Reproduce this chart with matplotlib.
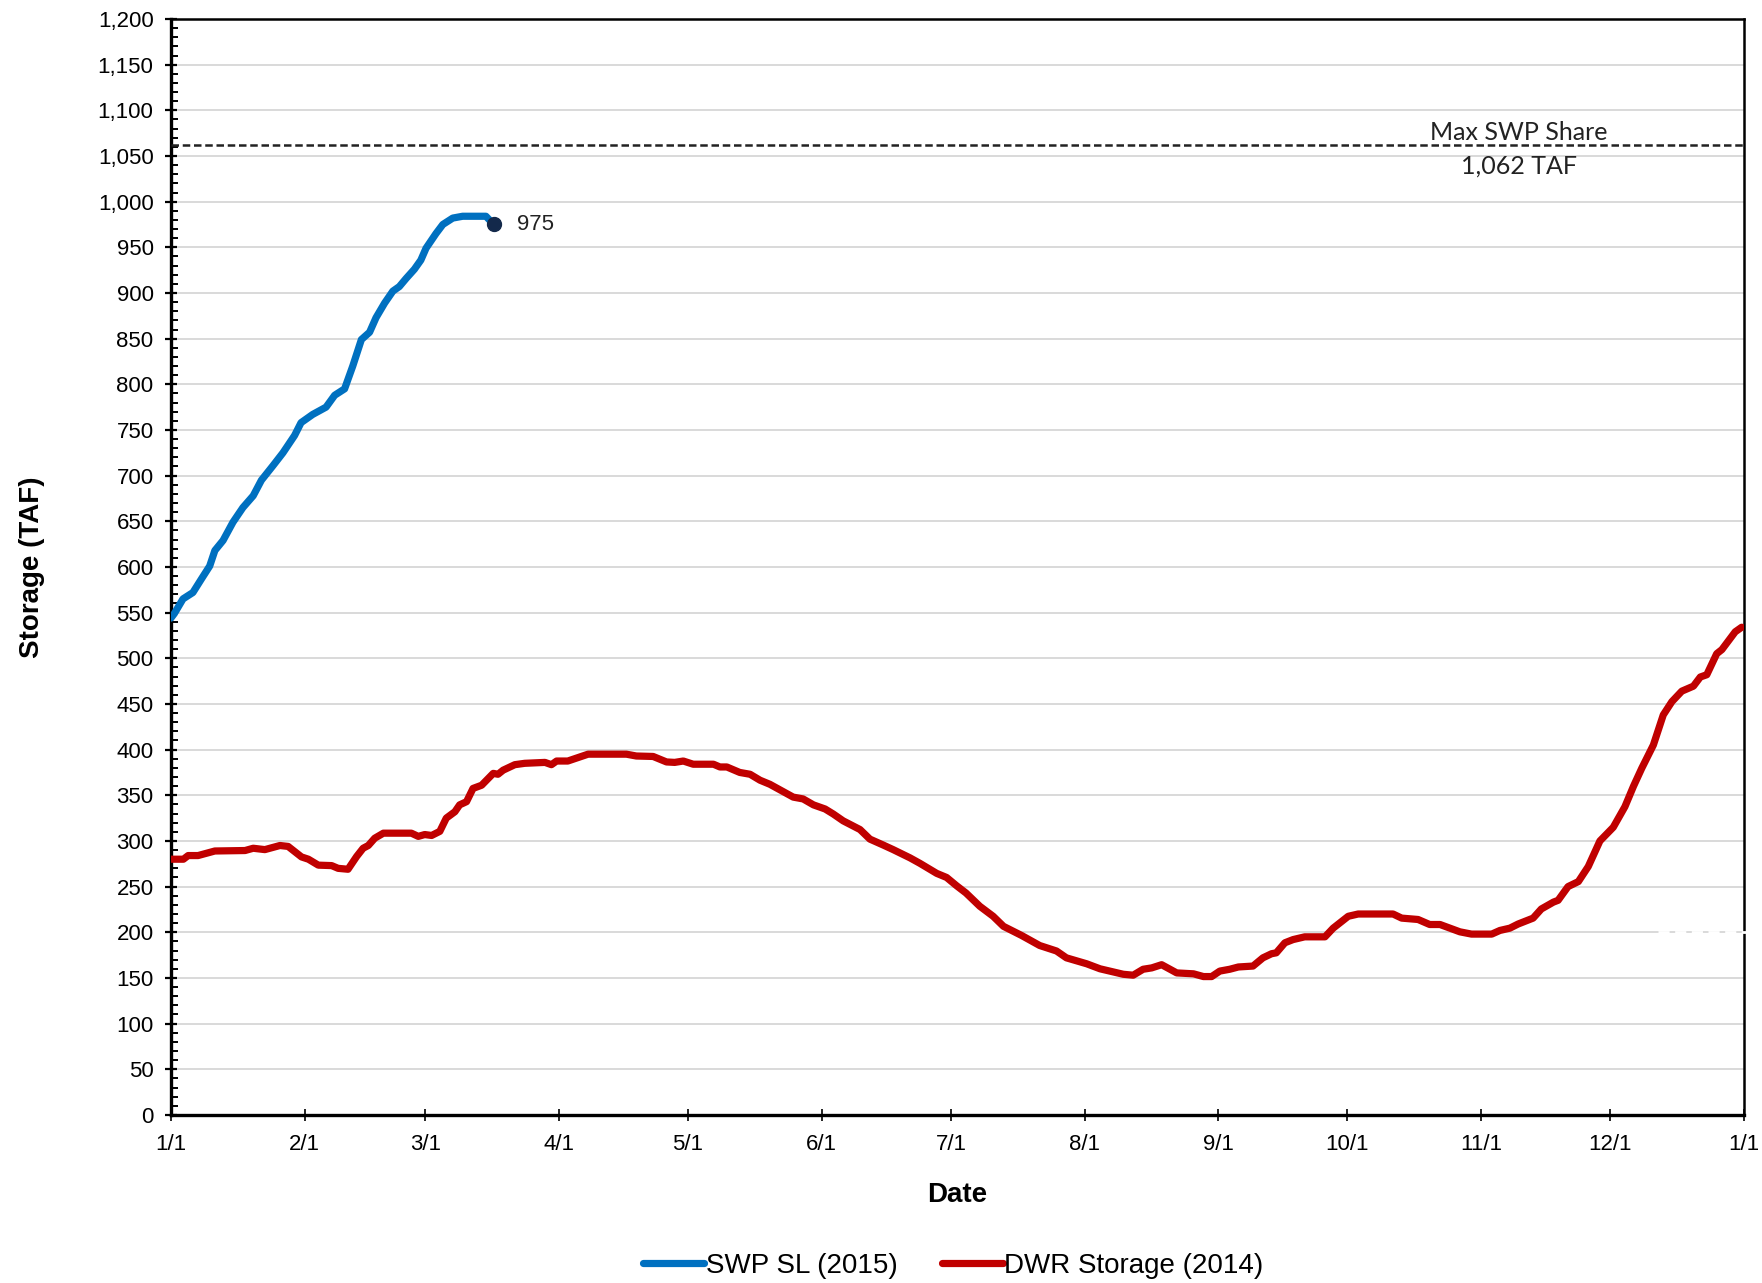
import numpy as np
import matplotlib
matplotlib.use("Agg")
import matplotlib.pyplot as plt
from matplotlib.ticker import MultipleLocator, FuncFormatter

plt.rcParams['font.family'] = ['Liberation Sans', 'DejaVu Sans']

# day of year (0 = 1/1) and storage in TAF
swp_day = [0, 0.8, 2.8, 5.1, 7.1, 9.0, 10.2, 12.1, 14.4, 16.7, 19.1, 21.0, 23.7, 26.0,
           28.7, 30.2, 32.9, 36.0, 38.0, 40.3, 42.2, 44.2, 46.1, 47.6, 49.6, 51.5, 53.0,
           54.6, 56.5, 58.0, 59.2, 61.5, 63.1, 65.4, 67.7, 73.1, 74.3, 74.9]
swp_taf = [544, 549, 565, 572, 587, 601, 618, 629, 649, 665, 678, 695, 711, 725,
           744, 758, 767, 775, 788, 795, 820, 849, 857, 873, 889, 902, 907,
           916, 926, 936, 949, 965, 975, 982, 984, 984, 978, 975]

dwr_day = [0, 2.9, 4.0, 6.3, 8.7, 10.2, 17.2, 19.1, 21.8, 25.3, 27.2, 30.3, 31.9, 34.2,
           37.3, 38.8, 41.1, 43.1, 44.6, 45.8, 47.3, 49.3, 55.8, 57.4, 58.9, 60.5, 62.4,
           63.9, 65.9, 67.0, 68.6, 70.1, 72.1, 74.8, 75.9, 77.1, 79.8, 82.1, 86.8, 88.3,
           89.5, 92.1, 94.3, 96.8, 105.7, 108.0, 111.9, 115.0, 116.9, 118.9, 121.2, 125.9,
           127.4, 129.0, 132.0, 134.4, 136.7, 139.0, 141.3, 144.4, 146.7, 149.1, 151.8,
           153.7, 156.0, 159.9, 162.2, 165.3, 167.6, 171.5, 173.8, 177.7, 180.0, 182.3,
           184.5, 187.7, 190.8, 193.2, 197.4, 201.6, 205.5, 207.8, 212.5, 215.6, 218.7,
           221.0, 223.3, 225.6, 227.6, 229.9, 233.4, 237.3, 239.6, 241.5, 243.4, 245.7,
           247.7, 251.1, 253.4, 255.4, 256.5, 258.5, 260.4, 263.1, 267.8, 269.7, 273.2,
           275.5, 283.6, 285.6, 289.4, 292.1, 294.5, 299.1, 301.8, 306.5, 308.4, 310.7,
           312.6, 316.1, 318.0, 320.8, 321.9, 324.2, 326.6, 328.9, 331.6, 334.7, 337.4,
           339.4, 341.3, 344.0, 346.3, 348.3, 350.6, 353.3, 354.9, 356.4, 358.7, 359.9,
           363.0, 364.5]
dwr_taf = [280, 280, 284, 284, 287, 289, 289.5, 292, 290.5, 295, 294, 282.5, 280, 273.5,
           273, 270, 269, 283, 292, 295, 303, 308.5, 308.5, 305, 307, 306, 310.5,
           325, 332, 339.5, 343, 357.5, 361, 374, 373, 377.5, 383.5, 385, 386, 383.5,
           387.5, 387.5, 391, 395, 395, 393, 392.5, 386.5, 386, 387.5, 384, 384,
           381, 381, 375, 373, 366.5, 362, 356, 348, 346, 339.5, 335,
           329.5, 322, 312.5, 302, 295.5, 290.5, 281.5, 275.5, 264.5, 260, 251,
           243, 228.5, 217.5, 206.5, 196.5, 185.5, 179.5, 172, 165.5, 160, 156.5,
           154, 153, 159.5, 161, 164.5, 155.5, 154.5, 151.5, 151.5, 157.5, 159.5,
           162, 163, 172, 176.5, 177.5, 188.5, 192, 195, 195, 204.5, 217.5,
           220, 220, 215.5, 214, 208.5, 208.5, 200.5, 198, 198, 202, 204.5,
           209, 215.5, 225.5, 233, 235, 250, 255.5, 272, 300, 315, 337.5,
           360, 379.5, 405, 438, 452.5, 464, 469.5, 479.5, 482, 505, 509.5,
           529, 534]

month_start = [0, 31, 59, 90, 120, 151, 181, 212, 243, 273, 304, 334, 365]
month_labels = ['1/1', '2/1', '3/1', '4/1', '5/1', '6/1', '7/1', '8/1', '9/1',
                '10/1', '11/1', '12/1', '1/1']
max_swp_share = 1062

fig = plt.figure(figsize=(17.62, 12.83), dpi=100)
ax = fig.add_axes([0.097, 0.131, 0.8927, 0.8542])

ax.plot(swp_day, swp_taf, color='#0070C0', lw=5.2, solid_capstyle='round',
        solid_joinstyle='round', label='SWP SL (2015)', zorder=4)
ax.plot(dwr_day, dwr_taf, color='#C00000', lw=5.2, solid_capstyle='round',
        solid_joinstyle='round', label='DWR Storage (2014)', zorder=4)
ax.plot(swp_day[-1], swp_taf[-1], 'o', color='#13294B', ms=10, zorder=5)
ax.text(swp_day[-1] + 5.5, swp_taf[-1], f'{swp_taf[-1]:.0f}', fontsize=16,
        va='center', ha='left', color='#222222')

# max SWP share reference line
ax.axhline(max_swp_share, color='#222222', lw=1.8, ls=(0, (3, 1.5)), zorder=3)
ax.text(312.8, 1076, 'Max SWP Share', fontsize=18, family=['Lato', 'DejaVu Sans'],
        ha='center', va='center', color='#222222')
ax.text(312.8, 1039, f'{max_swp_share:,} TAF', fontsize=18, family=['Lato', 'DejaVu Sans'],
        ha='center', va='center', color='#222222')

# small white dashes over the right spine near 200
ax.plot([345, 366], [200, 200], color='white', lw=2, ls=(0, (4, 2)), clip_on=False, zorder=6)

ax.set_xlim(0, 365)
ax.set_ylim(0, 1200)
ax.set_xticks(month_start)
ax.set_xticklabels(month_labels)
ax.yaxis.set_major_locator(MultipleLocator(50))
ax.yaxis.set_minor_locator(MultipleLocator(10))
ax.yaxis.set_major_formatter(FuncFormatter(lambda v, p: f'{v:,.0f}'))

ax.tick_params(axis='y', which='major', direction='inout', length=9, width=1.6,
               labelsize=16, pad=8)
ax.tick_params(axis='y', which='minor', direction='in', length=5, width=1.4)
ax.tick_params(axis='x', which='major', direction='inout', length=9, width=1.2,
               labelsize=16, pad=9)

ax.grid(axis='y', which='major', color='#D9D9D9', lw=1.4, zorder=0)
ax.set_axisbelow(True)
for side in ['left', 'bottom']:
    ax.spines[side].set_linewidth(2.4)
for side in ['top', 'right']:
    ax.spines[side].set_linewidth(1.8)

ax.set_xlabel('Date', fontsize=20, fontweight='bold', labelpad=20)
ax.set_ylabel('Storage (TAF)', fontsize=20, fontweight='bold', labelpad=38)

fig.legend(loc='center', bbox_to_anchor=(0.541, 0.0133), ncol=2, frameon=False,
           fontsize=20, handlelength=2.2, handletextpad=0.05, columnspacing=1.6)

fig.savefig('out.png', dpi=100)
